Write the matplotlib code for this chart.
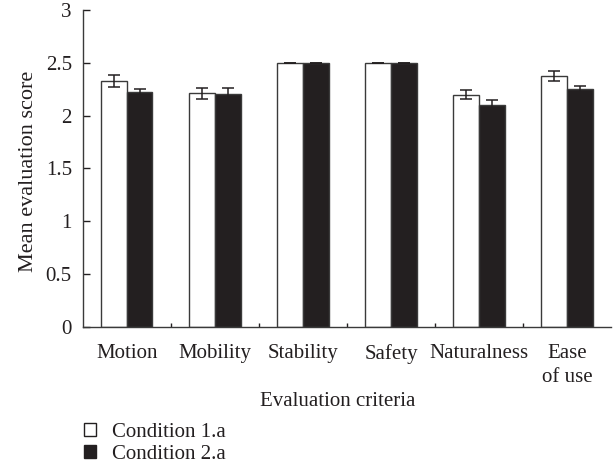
import matplotlib
matplotlib.use("Agg")
import matplotlib.pyplot as plt
from matplotlib.patches import Patch
import numpy as np

# Evaluation data
categories = ["Motion", "Mobility", "Stability", "Safety", "Naturalness", "Ease\nof use"]
cond1_mean = [2.33, 2.21, 2.50, 2.50, 2.20, 2.375]
cond1_err = [0.055, 0.05, 0.0, 0.0, 0.04, 0.05]
cond2_mean = [2.22, 2.205, 2.50, 2.50, 2.105, 2.25]
cond2_err = [0.03, 0.06, 0.0, 0.0, 0.045, 0.03]
yticks = [0, 0.5, 1, 1.5, 2, 2.5, 3]
series_labels = ["Condition 1.a", "Condition 2.a"]

ink = "#231f20"
plt.rcParams["font.family"] = ["Liberation Serif", "DejaVu Serif"]
plt.rcParams["font.size"] = 15
plt.rcParams["text.color"] = ink
plt.rcParams["axes.labelcolor"] = ink
plt.rcParams["xtick.color"] = ink
plt.rcParams["ytick.color"] = ink

fig = plt.figure(figsize=(6.16, 4.67), dpi=100)
ax = fig.add_axes([0.1347, 0.2998, 0.8572, 0.6788])

x = np.arange(len(categories))
w = 0.29
err_kw = dict(ecolor=ink, elinewidth=1.1, capsize=4.3, capthick=1.1)
ax.bar(x - w / 2, cond1_mean, w, yerr=cond1_err, color="white",
       edgecolor="#3a3a3a", linewidth=1.0, error_kw=err_kw, zorder=2)
ax.bar(x + w / 2, cond2_mean, w, yerr=cond2_err, color=ink,
       edgecolor="#3a3a3a", linewidth=1.0, error_kw=err_kw, zorder=2)

ax.set_xlim(-0.5, len(categories) - 0.5)
ax.set_ylim(0, 3)

# category labels at group centres, short inward ticks at group boundaries
ax.set_xticks(x)
ax.set_xticklabels(categories, linespacing=1.4)
ax.tick_params(axis="x", which="major", length=0, pad=12)
ax.set_xticks(np.arange(0.5, len(categories) - 0.5, 1.0), minor=True)
ax.tick_params(axis="x", which="minor", direction="in", length=3, width=1.0)

ax.set_yticks(yticks)
ax.set_yticklabels([f"{v:g}" for v in yticks])
ax.tick_params(axis="y", direction="in", length=5, width=1.0, pad=8)

for side in ("top", "right"):
    ax.spines[side].set_visible(False)
for side in ("left", "bottom"):
    ax.spines[side].set_color("#3a3a3a")
    ax.spines[side].set_linewidth(1.0)

ax.set_ylabel("Mean evaluation score", fontsize=16)
ax.yaxis.set_label_coords(-0.086, 0.49)
ax.set_xlabel("Evaluation criteria")
ax.xaxis.set_label_coords(0.483, -0.205)

handles = [Patch(facecolor="white", edgecolor=ink, linewidth=1.0),
           Patch(facecolor=ink, edgecolor=ink, linewidth=1.0)]
fig.legend(handles, series_labels, loc="upper left",
           bbox_to_anchor=(0.136, 0.094), frameon=False, borderpad=0,
           borderaxespad=0, handlelength=0.58, handleheight=0.58,
           handletextpad=0.77, labelspacing=0.15)

fig.savefig("out.png", dpi=100)
